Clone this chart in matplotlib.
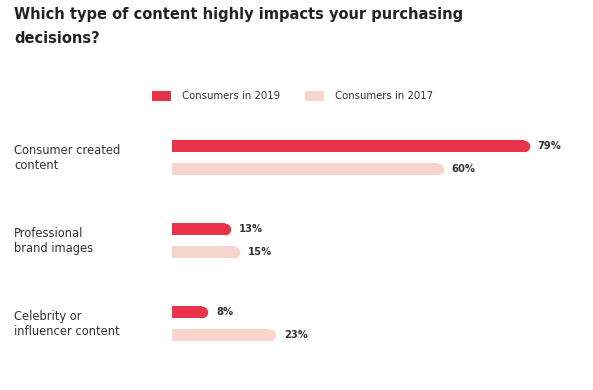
import matplotlib
matplotlib.use("Agg")
import matplotlib.pyplot as plt
from matplotlib.patches import Patch

categories = ["Consumer created\ncontent", "Professional\nbrand images", "Celebrity or\ninfluencer content"]
series_names = ["Consumers in 2019", "Consumers in 2017"]
values_2019 = [79, 13, 8]
values_2017 = [60, 15, 23]
title = "Which type of content highly impacts your purchasing\ndecisions?"

c2019 = "#E8334A"
c2017 = "#F8D5CC"
text_c = "#333333"

W, H = 593, 390
fig = plt.figure(figsize=(W / 100, H / 100), dpi=100)
fig.patch.set_facecolor("white")

left_px, right_px = 172, 580
top_px, bot_px = 130, 350
ax = fig.add_axes([left_px / W, 1 - bot_px / H, (right_px - left_px) / W, (bot_px - top_px) / H])
px_per_unit_x = 4.53
ax.set_xlim(0, (right_px - left_px) / px_per_unit_x)
px_per_group = 83.0
ax.set_ylim((bot_px - 146) / px_per_group, -(146 - top_px) / px_per_group)
ax.axis("off")

offset = 0.28
bar_px = 11.5
bh = bar_px / px_per_group
r_units = (bar_px / 2) / px_per_unit_x
cap_pt = bar_px * 0.72
ys = list(range(len(categories)))

def rounded_bars(yvals, vals, color):
    ax.barh(yvals, [v - r_units for v in vals], height=bh, color=color, edgecolor="none")
    ax.plot([v - r_units for v in vals], yvals, linestyle="none", marker="o",
            markersize=cap_pt, markeredgewidth=0, color=color)

rounded_bars(ys, values_2019, c2019)
rounded_bars([y + offset for y in ys], values_2017, c2017)

for y, v in zip(ys, values_2019):
    ax.annotate(f"{v}%", (v, y), xytext=(5.5, 0), textcoords="offset points",
                va="center", ha="left", fontsize=7.2, color=text_c, fontweight="semibold")
for y, v in zip(ys, values_2017):
    ax.annotate(f"{v}%", (v, y + offset), xytext=(5.5, 0), textcoords="offset points",
                va="center", ha="left", fontsize=7.2, color=text_c, fontweight="semibold")

for y, cat in zip(ys, categories):
    ax.text(-(left_px - 14) / px_per_unit_x, y + offset / 2, cat, ha="left", va="center",
            fontsize=8.3, color=text_c, linespacing=1.2)

fig.text(14 / W, 1 - 7 / H, title, ha="left", va="top", fontsize=10.5,
         fontweight="bold", color="#222222", linespacing=1.78)

handles = [Patch(facecolor=c2019, edgecolor="none"), Patch(facecolor=c2017, edgecolor="none")]
fig.legend(handles, series_names, loc="center left", bbox_to_anchor=(152 / W, 1 - 96 / H),
           ncol=2, frameon=False, fontsize=7.3, handlelength=1.9, handleheight=1.1,
           handletextpad=1.1, columnspacing=2.4, borderpad=0, borderaxespad=0,
           labelcolor=text_c)

fig.savefig("out.png", dpi=100, facecolor="white")
